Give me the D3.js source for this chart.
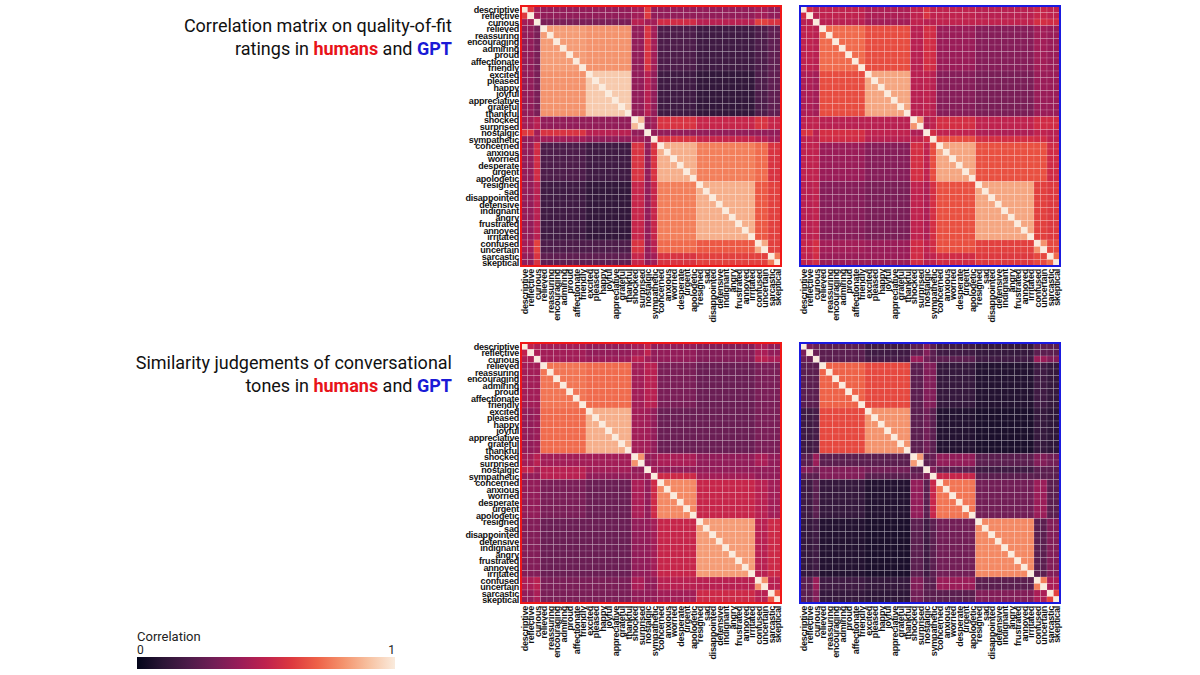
<!DOCTYPE html>
<html><head><meta charset="utf-8">
<script src="https://cdn.jsdelivr.net/npm/d3@7"></script>
<style>body{margin:0;background:#fff;} svg{display:block;}</style>
</head><body>
<script>
const labels = ["descriptive","reflective","curious","relieved","reassuring","encouraging","admiring","proud","affectionate","friendly","excited","pleased","happy","joyful","appreciative","grateful","thankful","shocked","surprised","nostalgic","sympathetic","concerned","anxious","worried","desperate","urgent","apologetic","resigned","sad","disappointed","defensive","indignant","angry","frustrated","annoyed","irritated","confused","uncertain","sarcastic","skeptical"];
// tone group of each label (A..K -> 0..10)
const groupOf = [0,0,1,2,2,2,2,2,2,2,3,3,3,3,3,3,3,4,4,5,6,7,7,7,7,7,7,8,8,8,8,8,8,8,8,8,9,9,10,10];

// block correlations (upper triangle rows, groups A..K)
const fitHumans = [
  [.60,.42,.38,.38,.42,.60,.38,.38,.38,.42,.38],
  [.45,.32,.32,.48,.42,.42,.55,.48,.62,.58],
  [.82,.80,.38,.58,.42,.20,.16,.20,.25],
  [.92,.38,.48,.38,.16,.12,.20,.25],
  [.88,.38,.42,.58,.52,.58,.52],
  [.50,.38,.38,.38,.38,.38],
  [.50,.58,.52,.48,.42],
  [.86,.76,.72,.58],
  [.86,.68,.62],
  [.85,.62],
  [.75]];
const fitGPT = [
  [.55,.48,.50,.45,.50,.58,.50,.50,.48,.52,.50],
  [.45,.48,.42,.50,.48,.48,.50,.50,.56,.55],
  [.72,.65,.48,.56,.55,.40,.35,.42,.40],
  [.84,.48,.50,.48,.35,.32,.40,.40],
  [.80,.45,.50,.56,.50,.55,.55],
  [.50,.55,.50,.45,.50,.48],
  [.50,.65,.56,.55,.50],
  [.84,.66,.66,.55],
  [.84,.62,.60],
  [.80,.64],
  [.72]];
const simHumans = [
  [.50,.45,.42,.38,.42,.50,.38,.38,.34,.44,.38],
  [.45,.42,.40,.48,.42,.38,.38,.34,.48,.44],
  [.74,.72,.42,.48,.48,.32,.28,.32,.32],
  [.86,.42,.42,.38,.28,.28,.32,.32],
  [.80,.38,.40,.44,.38,.44,.38],
  [.50,.42,.38,.38,.38,.38],
  [.50,.54,.42,.38,.38],
  [.78,.52,.48,.42],
  [.82,.48,.54],
  [.80,.48],
  [.68]];
const simGPT = [
  [.32,.28,.24,.16,.24,.34,.24,.16,.13,.24,.24],
  [.40,.24,.18,.40,.30,.24,.24,.16,.40,.34],
  [.70,.64,.24,.34,.34,.13,.08,.16,.13],
  [.80,.24,.30,.24,.08,.06,.13,.11],
  [.82,.24,.28,.38,.24,.34,.30],
  [.50,.34,.24,.16,.24,.24],
  [.50,.52,.24,.24,.24],
  [.74,.30,.40,.24],
  [.78,.24,.34],
  [.76,.44],
  [.62]];

const W = 1200, H = 675, SIZE = 260;
const svg = d3.select("body").append("svg").attr("width", W).attr("height", H);

// seaborn "rocket"-like ramp
const color = d3.scaleSequential(d3.interpolateRgbBasis(
  ["#03051a","#2c1738","#4c1d4b","#711f57","#9b1b5b","#c01f4f","#e0363a","#f06043","#f5936a","#f6c3a1","#faebdd"])).domain([0, 1]);

function blockValue(tri, g1, g2) {
  const a = Math.min(g1, g2), b = Math.max(g1, g2);
  return tri[a][b - a];
}

const band = d3.scaleBand().domain(d3.range(labels.length)).range([0, SIZE]);
const font = "'Liberation Sans', Arial, sans-serif";

function drawMatrix(tri, x0, y0, border, rowLabels) {
  const g = svg.append("g").attr("transform", `translate(${x0},${y0})`);
  const cells = [];
  labels.forEach((_, i) => labels.forEach((_, j) => {
    cells.push({i, j, v: i === j ? 1 : blockValue(tri, groupOf[i], groupOf[j])});
  }));
  g.selectAll("rect.cell").data(cells).enter().append("rect")
    .attr("x", d => band(d.j)).attr("y", d => band(d.i))
    .attr("width", band.bandwidth()).attr("height", band.bandwidth())
    .attr("fill", d => color(d.v))
    .attr("stroke", "rgba(255,255,255,0.35)").attr("stroke-width", 0.4);
  g.append("rect").attr("width", SIZE).attr("height", SIZE)
    .attr("fill", "none").attr("stroke", border).attr("stroke-width", 2);
  if (rowLabels) {
    g.selectAll("text.row").data(labels).enter().append("text")
      .attr("x", -2).attr("y", (d, i) => band(i) + band.bandwidth() / 2 + 3.3)
      .attr("text-anchor", "end").attr("font-family", font).attr("font-size", 9)
      .attr("font-weight", 700).attr("letter-spacing", -0.2)
      .attr("fill", "#111").text(d => d);
  }
  g.selectAll("text.col").data(labels).enter().append("text")
    .attr("transform", (d, i) => `translate(${band(i) + band.bandwidth() / 2 + 3.3},${SIZE + 3}) rotate(-90)`)
    .attr("text-anchor", "end").attr("font-family", font).attr("font-size", 9)
    .attr("font-weight", 700).attr("letter-spacing", -0.2)
    .attr("fill", "#111").text(d => d);
}

drawMatrix(fitHumans, 521, 6, "#f01818", true);
drawMatrix(fitGPT, 800, 6, "#1a1ae0", false);
drawMatrix(simHumans, 521, 343, "#f01818", true);
drawMatrix(simGPT, 800, 343, "#1a1ae0", false);

// titles
function title(lines, y) {
  lines.forEach((parts, k) => {
    const t = svg.append("text").attr("x", 452).attr("y", y + k * 23)
      .attr("text-anchor", "end").attr("font-family", "Roboto, 'Liberation Sans', sans-serif")
      .attr("font-size", 18).attr("fill", "#111");
    parts.forEach(p => t.append("tspan").text(p[0])
      .attr("fill", p[1] || "#111").attr("font-weight", p[1] ? 700 : 400));
  });
}
title([[["Correlation matrix on quality-of-fit"]],
       [["ratings in "],["humans","#e8141a"],[" and "],["GPT","#1a1ad6"]]], 32);
title([[["Similarity judgements of conversational"]],
       [["tones in "],["humans","#e8141a"],[" and "],["GPT","#1a1ad6"]]], 369);

// colour bar
const cb = svg.append("g").attr("transform", "translate(137,657)");
const grad = svg.append("defs").append("linearGradient").attr("id", "cbar");
d3.range(0, 1.01, 0.1).forEach(t => grad.append("stop")
  .attr("offset", `${t * 100}%`).attr("stop-color", color(t)));
const cbScale = d3.scaleLinear().domain([0, 1]).range([0, 258]);
cb.append("rect").attr("width", 258).attr("height", 12).attr("fill", "url(#cbar)");
cb.append("text").attr("x", 0).attr("y", -16).attr("font-family", "Roboto, sans-serif")
  .attr("font-size", 13).attr("fill", "#222").text("Correlation");
[0, 1].forEach(v => cb.append("text").attr("x", cbScale(v)).attr("y", -3)
  .attr("text-anchor", v ? "end" : "start").attr("font-family", "Roboto, sans-serif")
  .attr("font-size", 12).attr("fill", "#222").text(v));
</script>
</body></html>
